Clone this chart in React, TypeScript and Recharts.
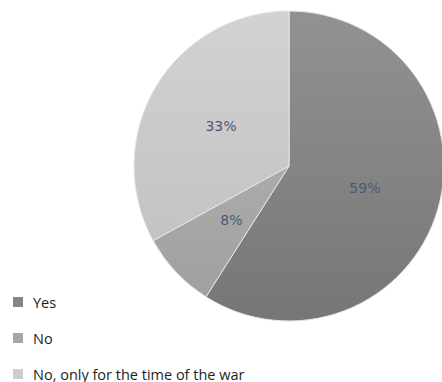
import { PieChart, Pie, Cell, Legend } from 'recharts'

const answers = ['Yes', 'No', 'No, only for the time of the war']
const shares = [59, 8, 33]
const data = answers.map((name, i) => ({ name, value: shares[i] }))

const gradients = [
  { id: 'gYes', top: '#929292', bottom: '#767676', legend: '#858585' },
  { id: 'gNo', top: '#ababab', bottom: '#a0a0a0', legend: '#a6a6a6' },
  { id: 'gWar', top: '#d2d2d2', bottom: '#c3c3c3', legend: '#cdcdcd' },
]

const RADIAN = Math.PI / 180

const renderLabel = (props: any) => {
  const { cx, cy, midAngle, outerRadius, value } = props
  const r = outerRadius * 0.51
  const x = cx + r * Math.cos(-midAngle * RADIAN)
  const y = cy + r * Math.sin(-midAngle * RADIAN)
  return (
    <text
      x={x}
      y={y}
      fill="#4a5878"
      fontSize={14}
      fontFamily="DejaVu Sans"
      textAnchor="middle"
      dominantBaseline="central"
    >
      {value}%
    </text>
  )
}

const renderLegend = () => (
  <div style={{ fontFamily: 'Open Sans', fontSize: 14.5, color: '#1e1e1e' }}>
    {answers.map((a, i) => (
      <div key={a} style={{ display: 'flex', alignItems: 'center', height: 36 }}>
        <span
          style={{
            display: 'inline-block',
            width: 10,
            height: 10,
            background: gradients[i].legend,
            marginLeft: 13,
            marginRight: 10,
          }}
        />
        <span>{a}</span>
      </div>
    ))}
  </div>
)

export default function App() {
  return (
    <div style={{ position: 'absolute', left: 0, top: 0, background: '#fff' }}>
      <PieChart width={442} height={382} margin={{ top: 0, right: 0, bottom: 0, left: 0 }}>
        <defs>
          {gradients.map((g) => (
            <linearGradient key={g.id} id={g.id} x1="0" y1="0" x2="0" y2="1">
              <stop offset="0%" stopColor={g.top} />
              <stop offset="100%" stopColor={g.bottom} />
            </linearGradient>
          ))}
        </defs>
        <Pie
          data={data}
          dataKey="value"
          nameKey="name"
          cx={289}
          cy={166}
          outerRadius={155}
          startAngle={90}
          endAngle={-270}
          stroke="#e6e6e6"
          strokeWidth={1}
          label={renderLabel}
          labelLine={false}
          isAnimationActive={false}
        >
          {data.map((d, i) => (
            <Cell key={d.name} fill={`url(#${gradients[i].id})`} />
          ))}
        </Pie>
        <Legend
          layout="horizontal"
          align="left"
          verticalAlign="bottom"
          wrapperStyle={{ left: 0, bottom: -10, width: 260 }}
          content={renderLegend}
        />
      </PieChart>
    </div>
  )
}
